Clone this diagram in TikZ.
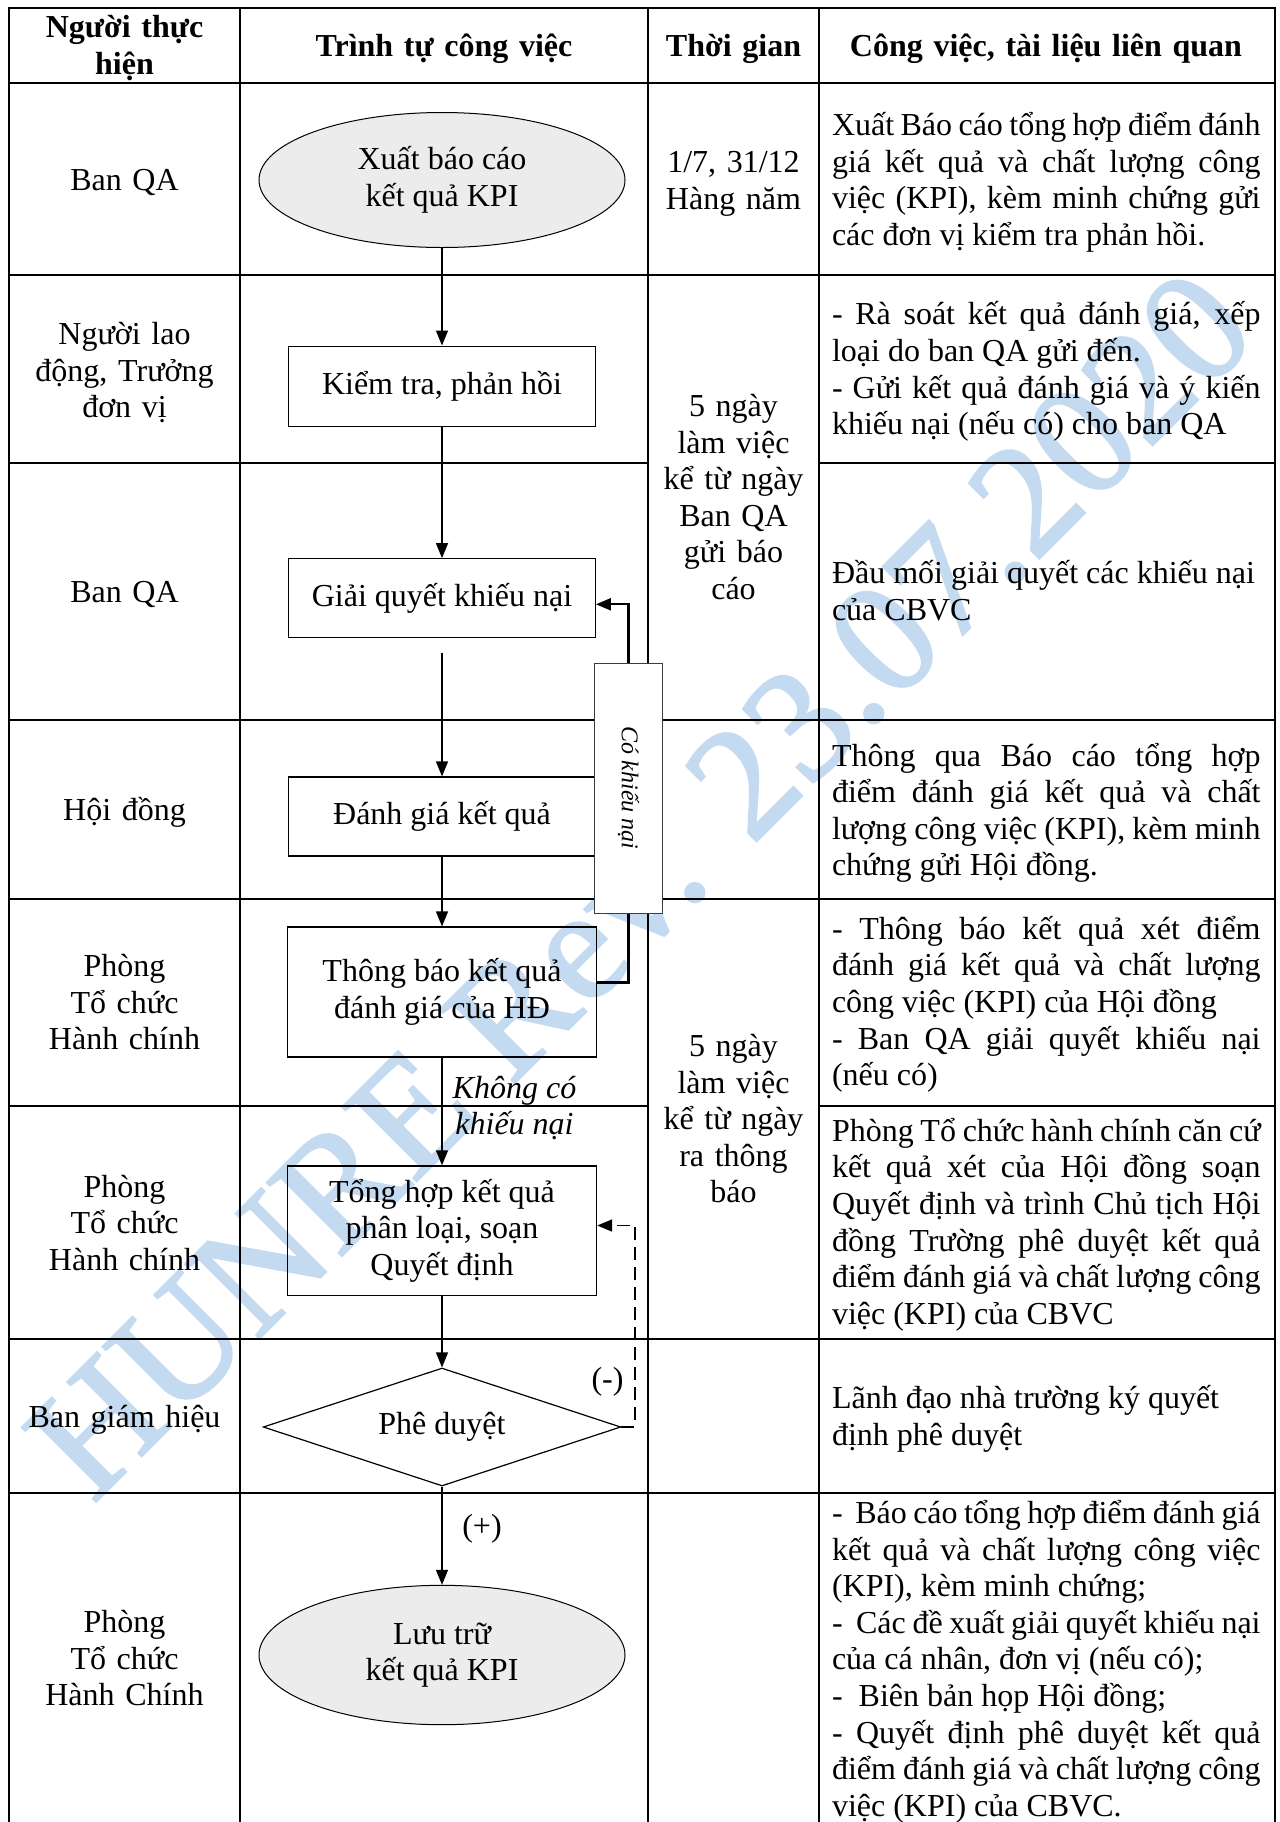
\documentclass[tikz,border=0pt]{standalone}
\usepackage{fontspec}
\setmainfont{Liberation Serif}
\newfontfamily\wmfont[FakeBold=1.5]{Liberation Serif}
\usetikzlibrary{arrows.meta,shapes.geometric}
\definecolor{wmblue}{RGB}{195,218,241}
\definecolor{termfill}{RGB}{236,236,236}
\definecolor{ckborder}{RGB}{60,60,60}
\newcommand\mainfs{\fontsize{16pt}{18.3pt}\selectfont}
\newcommand\ckfs{\fontsize{12pt}{14pt}\selectfont}
\newcommand\wmfs{\wmfont\fontsize{80pt}{82pt}\selectfont}
\hyphenpenalty=10000
\exhyphenpenalty=10000
\tolerance=10000
\begin{document}
\begin{tikzpicture}[x=0.5pt,y=-0.5pt,
  tblline/.style={line width=1pt, line cap=rect},
  flowbox/.style={draw, line width=0.6pt, rectangle, align=center, font=\mainfs, inner sep=0pt},
  termnode/.style={draw, line width=0.5pt, ellipse, fill=termfill, align=center, font=\mainfs, inner sep=0pt},
  decnode/.style={draw, line width=0.6pt, diamond, aspect=2, align=center, font=\mainfs, inner sep=0pt},
  arr/.style={-{Triangle[length=7.5pt,width=6pt]}, line width=0.7pt},
  colL/.style={anchor=base, text width=112pt, align=center, font=\mainfs, inner sep=0pt},
  colR/.style={anchor=base west, text width=214.3pt, align=justify, font=\mainfs, inner sep=0pt},
  hdr/.style={anchor=base, text width=220pt, align=center, font=\mainfs\bfseries, inner sep=0pt},
  lbl/.style={align=center, font=\mainfs, inner sep=0pt},
]
\useasboundingbox (0,0) rectangle (1280,1822);
\fill[white] (0,0) rectangle (1280,1822);
% watermark
\node[text=wmblue, rotate=45, font=\wmfs, inner sep=0pt] (wmark) at (640,884) {HUNRE Rev. 23.07.2020};
% table grid
\draw[tblline] (9,8) -- (1275,8);
\draw[tblline] (9,82.5) -- (1275,82.5);
\draw[tblline] (9,275.3) -- (1275,275.3);
\draw[tblline] (9,463.4) -- (648.1,463.4) (818.9,463.4) -- (1275,463.4);
\draw[tblline] (9,720.1) -- (1275,720.1);
\draw[tblline] (9,899) -- (1275,899);
\draw[tblline] (9,1105.7) -- (648.1,1105.7) (818.9,1105.7) -- (1275,1105.7);
\draw[tblline] (9,1339.2) -- (1275,1339.2);
\draw[tblline] (9,1492.5) -- (1275,1492.5);
\foreach \xx in {9,240.4,648.1,818.9,1275} \draw[tblline] (\xx,8) -- (\xx,1840);
% header
\node[hdr] (h1) at (124.5,37.9) {Người thực\\hiện};
\node[hdr] (h2) at (444,56.5) {Trình tự công việc};
\node[hdr] (h3) at (733.5,56.5) {Thời gian};
\node[hdr] (h4) at (1046,56.5) {Công việc, tài liệu liên quan};
% left column
\node[colL] (l1) at (124.5,190) {Ban QA};
\node[colL] (l2) at (124.5,344.5) {Người lao\\động, Trưởng\\đơn vị};
\node[colL] (l3) at (124.5,602.4) {Ban QA};
\node[colL] (l4) at (124.5,820.7) {Hội đồng};
\node[colL] (l5) at (124.5,976.4) {Phòng\\Tổ chức\\Hành chính};
\node[colL] (l6) at (124.5,1197) {Phòng\\Tổ chức\\Hành chính};
\node[colL] (l7) at (124.5,1427) {Ban giám hiệu};
\node[colL] (l8) at (124.5,1632.6) {Phòng\\Tổ chức\\Hành Chính};
% time column
\node[colL] (t1) at (733.5,172.6) {1/7, 31/12\\Hàng năm};
\node[colL] (t2) at (733.5,416.5) {5 ngày\\làm việc\\kể từ ngày\\Ban QA\\gửi báo\\cáo};
\node[colL] (t3) at (733.5,1056.5) {5 ngày\\làm việc\\kể từ ngày\\ra thông\\báo};
% right column
\node[colR] (r1) at (831.6,135.4) {Xuất Báo cáo tổng hợp điểm đánh\linebreak giá kết quả và chất lượng công\linebreak việc (KPI), kèm minh chứng gửi\linebreak các đơn vị kiểm tra phản hồi.};
\node[colR] (r2) at (831.6,324.8) {- Rà soát kết quả đánh giá, xếp\linebreak loại do ban QA gửi đến.\\ - Gửi kết quả đánh giá và ý kiến\linebreak khiếu nại (nếu có) cho ban QA};
\node[colR] (r3) at (831.6,583.8) {Đầu mối giải quyết các khiếu nại\\ của CBVC};
\node[colR] (r4) at (831.6,766.1) {Thông qua Báo cáo tổng hợp\linebreak điểm đánh giá kết quả và chất\linebreak lượng công việc (KPI), kèm minh\linebreak chứng gửi Hội đồng.};
\node[colR] (r5) at (831.6,939.2) {- Thông báo kết quả xét điểm\linebreak đánh giá kết quả và chất lượng\linebreak công việc (KPI) của Hội đồng\\ - Ban QA giải quyết khiếu nại\linebreak (nếu có)};
\node[colR] (r6) at (831.6,1141.3) {Phòng Tổ chức hành chính căn cứ\linebreak kết quả xét của Hội đồng soạn\linebreak Quyết định và trình Chủ tịch Hội\linebreak đồng Trường phê duyệt kết quả\linebreak điểm đánh giá và chất lượng công\linebreak việc (KPI) của CBVC};
\node[colR] (r7) at (831.6,1408.4) {Lãnh đạo nhà trường ký quyết\\ định phê duyệt};
\node[colR] (r8) at (831.6,1523.4) {-\ \ Báo cáo tổng hợp điểm đánh giá\linebreak kết quả và chất lượng công việc\linebreak (KPI), kèm minh chứng;\\ -\ \ Các đề xuất giải quyết khiếu nại\linebreak của cá nhân, đơn vị (nếu có);\\ -\ \ Biên bản họp Hội đồng;\\ - Quyết định phê duyệt kết quả\linebreak điểm đánh giá và chất lượng công\linebreak việc (KPI) của CBVC.};
% flow nodes
\node[termnode, minimum width=183pt, minimum height=67.5pt] (start) at (442,180) {Xuất báo cáo\\kết quả KPI};
\node[flowbox, minimum width=153.3pt, minimum height=40.1pt] (check) at (442,386.2) {Kiểm tra, phản hồi};
\node[flowbox, minimum width=153.3pt, minimum height=39.5pt] (solve) at (442,598.2) {Giải quyết khiếu nại};
\node[flowbox, minimum width=153.3pt, minimum height=39.5pt] (eval) at (442,816.5) {Đánh giá kết quả};
\node[flowbox, minimum width=154.5pt, minimum height=65pt] (notify) at (442,992) {Thông báo kết quả\\đánh giá của HĐ};
\node[flowbox, minimum width=154.6pt, minimum height=64.6pt] (summ) at (442,1230.5) {Tổng hợp kết quả\\phân loại, soạn\\Quyết định};
\node[decnode, minimum width=178.8pt, minimum height=59pt] (appr) at (442,1427) {Phê duyệt};
\node[termnode, minimum width=183pt, minimum height=69.7pt] (store) at (442,1655) {Lưu trữ\\kết quả KPI};
% main arrows
\draw[arr] (start) -- (check);
\draw[arr] (check) -- (solve);
\coordinate (gapstart) at (442,652.8);
\draw[arr] (gapstart) -- (eval);
\draw[arr] (eval) -- (notify);
\draw[arr] (notify) -- (summ);
\draw[arr] (summ) -- (appr);
\draw[arr] (appr) -- (store);
% complaint loop
\coordinate (ckbot) at (628.5,982.5);
\coordinate (cktop) at (628.5,604.3);
\draw[arr, line width=1.1pt] (notify.east |- ckbot) -- (ckbot) -- (cktop) -- (solve.east |- cktop);
\node[draw=ckborder, line width=0.4pt, fill=white, rotate=-90, minimum width=125pt, minimum height=34.2pt, font=\ckfs\itshape, inner sep=0pt] (ckbox) at (628.5,788.3) {Có khiếu nại};
% rejection loop
\coordinate (dright) at (634.8,1427);
\coordinate (dtop) at (634.8,1225.5);
\draw[arr, line width=0.9pt, dash pattern=on 6.5pt off 3.5pt] (appr.east) -- (dright) -- (dtop) -- (summ.east |- dtop);
% labels
\node[lbl, font=\mainfs\itshape] (nokn) at (514.5,1108) {Không có\\khiếu nại};
\node[lbl] (minus) at (607.5,1382) {(-)};
\node[lbl] (plus) at (482,1528.5) {(+)};
\end{tikzpicture}
\end{document}
